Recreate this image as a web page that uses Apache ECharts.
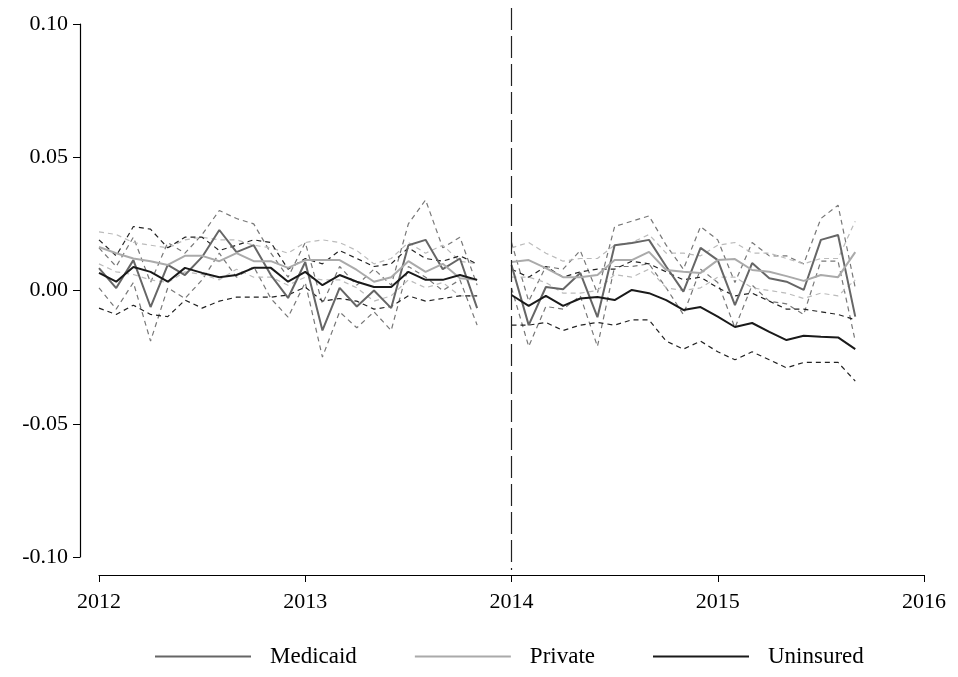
<!DOCTYPE html>
<html>
<head>
<meta charset="utf-8">
<script src="https://cdn.jsdelivr.net/npm/echarts@6/dist/echarts.min.js"></script>
<style>html,body{margin:0;background:#fff}#main{width:958px;height:677px}</style>
</head>
<body>
<div id="main"></div>
<script>
// month offsets (in years) of the two observed periods
var preMonths = [0,1,2,3,4,5,6,7,8,9,10,11,12,13,14,15,16,17,18,19,20,21,22];
var postMonths = [0,1,2,3,4,5,6,7,8,9,10,11,12,13,14,15,16,17,18,19,20];

var medicaidPre = [0.0084,0.0009,0.0114,-0.0062,0.0096,0.0058,0.0126,0.0227,0.0144,0.017,0.0058,-0.0028,0.0107,-0.015,0.001,-0.006,0.0,-0.0066,0.017,0.019,0.008,0.012,-0.0066];
var medicaidPreHi = [0.016,0.009,0.020,0.003,0.018,0.014,0.021,0.030,0.027,0.025,0.014,0.005,0.018,-0.005,0.009,0.002,0.008,0.002,0.025,0.034,0.016,0.020,0.002];
var medicaidPreLo = [0.001,-0.007,0.003,-0.019,0.001,-0.003,0.004,0.014,0.005,0.009,-0.003,-0.010,0.003,-0.025,-0.008,-0.014,-0.008,-0.015,0.009,0.005,0.000,0.004,-0.013];
var privatePre = [0.0163,0.014,0.012,0.011,0.0096,0.013,0.013,0.011,0.014,0.011,0.011,0.0085,0.0114,0.0114,0.0114,0.0077,0.0033,0.005,0.011,0.007,0.010,0.0046,0.004];
var privatePreHi = [0.022,0.021,0.018,0.017,0.016,0.019,0.020,0.019,0.019,0.017,0.016,0.014,0.018,0.019,0.018,0.015,0.010,0.012,0.018,0.014,0.017,0.011,0.010];
var privatePreLo = [0.010,0.007,0.006,0.004,0.003,0.007,0.006,0.004,0.008,0.005,0.005,0.002,0.005,0.004,0.004,0.001,-0.004,-0.002,0.004,0.001,0.003,-0.002,-0.002];
var uninsPre = [0.0066,0.0033,0.0088,0.007,0.0033,0.0085,0.0066,0.005,0.0058,0.0085,0.0085,0.0033,0.007,0.002,0.0058,0.0033,0.0013,0.0013,0.007,0.004,0.004,0.0058,0.004];
var uninsPreHi = [0.019,0.013,0.024,0.023,0.016,0.020,0.020,0.015,0.017,0.019,0.018,0.008,0.012,0.010,0.015,0.012,0.009,0.010,0.016,0.012,0.011,0.013,0.010];
var uninsPreLo = [-0.0066,-0.009,-0.0055,-0.009,-0.0098,-0.0036,-0.0066,-0.004,-0.0025,-0.0025,-0.0025,-0.0017,0.0013,-0.004,-0.003,-0.004,-0.007,-0.006,-0.002,-0.004,-0.003,-0.002,-0.002];

var medicaidPost = [0.0096,-0.013,0.0013,0.0005,0.0066,-0.010,0.017,0.0178,0.019,0.009,-0.0004,0.016,0.0114,-0.0055,0.0103,0.0046,0.0033,0.0002,0.019,0.0208,-0.0098];
var medicaidPostHi = [0.018,-0.004,0.009,0.008,0.015,-0.001,0.024,0.026,0.028,0.017,0.008,0.024,0.019,0.003,0.018,0.013,0.013,0.010,0.027,0.032,0.001];
var medicaidPostLo = [0.001,-0.021,-0.006,-0.007,-0.002,-0.021,0.009,0.009,0.010,0.001,-0.009,0.008,0.003,-0.014,0.002,-0.004,-0.005,-0.009,0.011,0.011,-0.019];
var privatePost = [0.0107,0.0114,0.0084,0.005,0.005,0.0058,0.0114,0.0114,0.0145,0.0077,0.007,0.0066,0.0114,0.0118,0.0077,0.007,0.0054,0.0036,0.0058,0.005,0.0144];
var privatePostHi = [0.016,0.018,0.014,0.011,0.012,0.012,0.017,0.018,0.021,0.014,0.014,0.013,0.017,0.018,0.014,0.014,0.012,0.010,0.012,0.012,0.026];
var privatePostLo = [0.005,0.005,0.003,-0.001,-0.001,0.000,0.006,0.005,0.008,0.001,0.000,0.001,0.005,0.005,0.001,0.000,-0.001,-0.003,-0.001,-0.002,0.004];
var uninsPost = [-0.0017,-0.0058,-0.002,-0.0058,-0.003,-0.0024,-0.0036,0.0002,-0.001,-0.0036,-0.0073,-0.0062,-0.0098,-0.0137,-0.0122,-0.0155,-0.0186,-0.017,-0.0174,-0.0176,-0.022];
var uninsPostHi = [0.008,0.005,0.009,0.005,0.007,0.008,0.008,0.011,0.010,0.007,0.004,0.005,0.001,-0.002,-0.001,-0.004,-0.007,-0.007,-0.008,-0.009,-0.011];
var uninsPostLo = [-0.013,-0.013,-0.012,-0.015,-0.013,-0.012,-0.013,-0.011,-0.011,-0.019,-0.022,-0.019,-0.023,-0.026,-0.023,-0.026,-0.029,-0.027,-0.027,-0.027,-0.034];

var xTicks = [2012, 2013, 2014, 2015, 2016];

function pts(start, months, vals) {
  return months.map(function (m, i) { return [start + m / 12, vals[i]]; });
}
function join(pre, post) {
  return pts(2012, preMonths, pre).concat([[2013.95, null]]).concat(pts(2014, postMonths, post));
}

var font = 'Liberation Serif';
function solid(name, color, pre, post) {
  return { name: name, type: 'line', data: join(pre, post), showSymbol: false, connectNulls: false,
    lineStyle: { color: color, width: 2 }, itemStyle: { color: color }, z: 3 };
}
function band(color, pre, post) {
  return { type: 'line', data: join(pre, post), showSymbol: false, connectNulls: false, silent: true,
    lineStyle: { color: color, width: 1.2, type: [5, 4] }, z: 2 };
}

var myChart = echarts.init(document.getElementById('main'));
var option = {
  animation: false,
  grid: { left: 99, right: 34, top: 24, bottom: 120 },
  xAxis: {
    type: 'value', min: 2012, max: 2016, interval: 1, offset: 18,
    axisLine: { onZero: false, lineStyle: { color: '#000', width: 1.2 } },
    axisTick: { length: 7, lineStyle: { color: '#000' } },
    axisLabel: { color: '#000', fontFamily: font, fontSize: 22, margin: 16,
      formatter: function (v) { return String(v); } },
    splitLine: { show: false }
  },
  yAxis: {
    type: 'value', min: -0.1, max: 0.1, interval: 0.05, offset: 19,
    axisLine: { show: true, onZero: false, lineStyle: { color: '#000', width: 1.2 } },
    axisTick: { show: true, length: 7, lineStyle: { color: '#000' } },
    axisLabel: { color: '#000', fontFamily: font, fontSize: 22, margin: 12,
      formatter: function (v) { return v.toFixed(2); } },
    splitLine: { show: false }
  },
  legend: {
    bottom: 4, left: 150, itemWidth: 96, itemHeight: 2, itemGap: 58,
    icon: 'rect', textStyle: { fontFamily: font, fontSize: 23, color: '#000', padding: [0, 0, 0, 14] },
    data: ['Medicaid', 'Private', 'Uninsured']
  },
  series: [
    band('#777', medicaidPreHi, medicaidPostHi),
    band('#777', medicaidPreLo, medicaidPostLo),
    band('#bbb', privatePreHi, privatePostHi),
    band('#bbb', privatePreLo, privatePostLo),
    band('#222', uninsPreHi, uninsPostHi),
    band('#222', uninsPreLo, uninsPostLo),
    solid('Medicaid', '#666', medicaidPre, medicaidPost),
    solid('Private', '#aaa', privatePre, privatePost),
    solid('Uninsured', '#1a1a1a', uninsPre, uninsPost)
  ]
};
myChart.setOption(option);

// policy line at 2014, running a bit past the plot area
var px = myChart.convertToPixel({ xAxisIndex: 0 }, xTicks[2]);
myChart.setOption({
  graphic: [{ type: 'line', shape: { x1: px, y1: 8, x2: px, y2: 570 },
    style: { stroke: '#222', lineWidth: 1.2, lineDash: [22, 6] }, z: 10 }]
});
</script>
</body>
</html>
